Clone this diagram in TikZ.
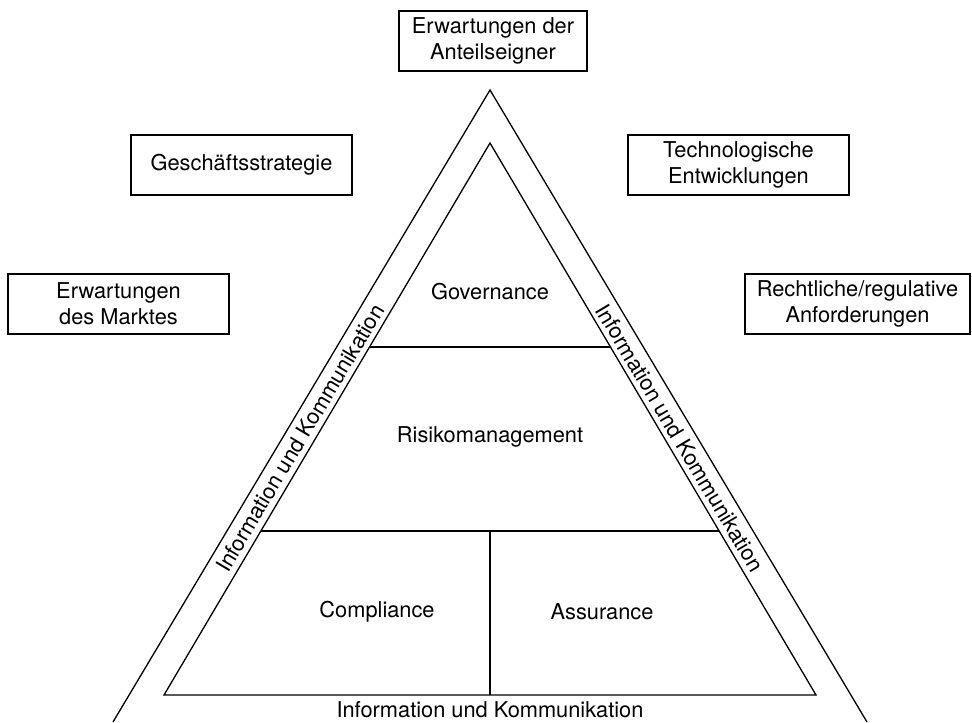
\documentclass[tikz,border=0pt]{standalone}
\usepackage{fontspec}
\setmainfont{TeX Gyre Heros}

\begin{document}
\begin{tikzpicture}[x=0.5pt,y=-0.5pt,line width=0.65pt,
    every node/.style={font=\fontsize{10.9}{12.9}\selectfont},
    box/.style={draw,align=center,inner sep=0pt,minimum height=30pt,minimum width=110.5pt},
    band/.style={inner sep=1pt}]
  \useasboundingbox (0,0) rectangle (972,722);
  % outer and inner triangle
  \coordinate (otop) at (490,90); \coordinate (oleft) at (113,722); \coordinate (oright) at (867,722);
  \coordinate (itop) at (490,143); \coordinate (ileft) at (164,695); \coordinate (iright) at (816,695);
  \draw (oleft) -- (otop) -- (oright);
  \draw (itop) -- (ileft) -- (iright) -- cycle;
  \coordinate (gl) at (369.5,347); \coordinate (gr) at (610.5,347);
  \coordinate (rl) at (261,531); \coordinate (rr) at (719,531);
  \coordinate (mt) at (490,531); \coordinate (mb) at (490,695);
  \draw (gl) -- (gr);
  \draw (rl) -- (rr);
  \draw (mt) -- (mb);
  % levels
  \node (gov) at (490,292) {Governance};
  \node (risk) at (490,437) {Risikomanagement};
  \node (comp) at (377,612) {Compliance};
  \node (assu) at (602,612) {Assurance};
  % information und kommunikation
  \node[band,rotate=59.2] (infol) at (300,438) {Information und Kommunikation};
  \node[band,rotate=-59.2] (infor) at (680,438) {Information und Kommunikation};
  \node[band] (infob) at (490,710) {Information und Kommunikation};
  % surrounding boxes
  \node[box,minimum width=94pt] (anteil) at (493,41) {Erwartungen der\\Anteilseigner};
  \node[box] (strategie) at (241.5,165) {Geschäftsstrategie};
  \node[box] (technik) at (738.5,165) {Technologische\\Entwicklungen};
  \node[box] (markt) at (118.5,304) {Erwartungen\\des Marktes};
  \node[box,minimum width=112.5pt] (recht) at (857.5,304) {Rechtliche/regulative\\Anforderungen};
\end{tikzpicture}
\end{document}
